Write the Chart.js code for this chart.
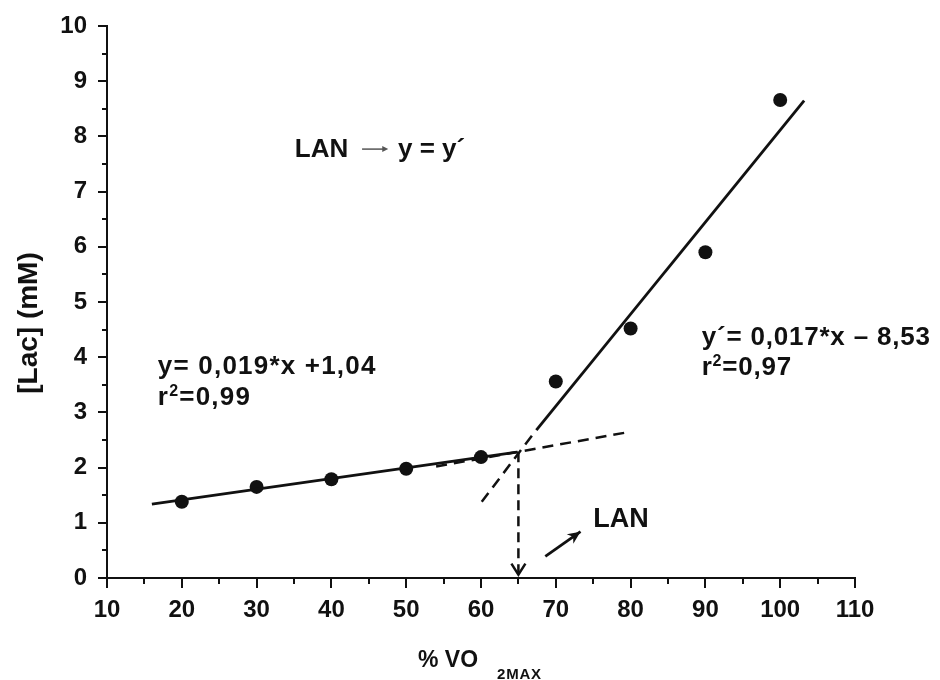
<!DOCTYPE html>
<html>
<head>
<meta charset="utf-8">
<script src="https://cdn.jsdelivr.net/npm/chart.js@4/dist/chart.umd.min.js"></script>
<style>
  html, body { margin: 0; padding: 0; background: #fff; }
  #wrap { width: 940px; height: 680px; }
</style>
</head>
<body>
<div id="wrap"><canvas id="c" width="940" height="680"></canvas></div>
<script>
const FONT = '"Liberation Sans", Arial, Helvetica, sans-serif';
const INK = '#111';

// Blood lactate measured at each exercise intensity
const vo2Pct  = [20, 30, 40, 50, 60, 70, 80, 90, 100];
const lactate = [1.38, 1.65, 1.79, 1.98, 2.19, 3.56, 4.52, 5.90, 8.66];

// Regression line below the threshold and its dashed extension
const lowFitX = [16, 64.8],   lowFitY = [1.34, 2.28];
const lowExtX = [54, 80],     lowExtY = [2.02, 2.65];
// Regression line above the threshold and its dashed extension
const highFitX = [67.4, 103.2], highFitY = [2.68, 8.65];
const highExtX = [60.1, 67.2],  highExtY = [1.38, 2.65];
// Drop from the intersection to the x axis, and the small pointer arrow
const lanDropX = [65, 65],       lanDropY = [2.28, 0.06];
const lanPointerX = [68.6, 73.3], lanPointerY = [0.39, 0.84];

// Axis ticks
const xTickLabels = ['10', '20', '30', '40', '50', '60', '70', '80', '90', '100', '110'];
const yTickLabels = ['0', '1', '2', '3', '4', '5', '6', '7', '8', '9', '10'];

const pts = (xs, ys) => xs.map((x, i) => ({ x: x, y: ys[i] }));

function seg(xs, ys, dash, width) {
  return {
    type: 'line',
    data: pts(xs, ys),
    showLine: true,
    borderColor: INK,
    borderWidth: width,
    borderDash: dash,
    borderCapStyle: 'butt',
    pointRadius: 0,
    fill: false,
    tension: 0
  };
}

// Text drawn over the plot, anchored in data units; "sup" pieces are raised
const notes = [
  { parts: [['y= 0,019*x +1,04']], x: 16.8, y: 3.70, size: 26, spacing: 1.2 },
  { parts: [['r'], ['2', 'sup'], ['=0,99']], x: 16.8, y: 3.13, size: 26, spacing: 1.2 },
  { parts: [['y\u00B4= 0,017*x \u2013 8,53']], x: 89.5, y: 4.22, size: 26, spacing: 0.8 },
  { parts: [['r'], ['2', 'sup'], ['=0,97']], x: 89.5, y: 3.68, size: 26, spacing: 0.8 },
  { parts: [['LAN']], x: 75.0, y: 0.92, size: 27, spacing: 0 },
  { parts: [['LAN']], x: 35.1, y: 7.63, size: 26, spacing: 0 },
  { parts: [['y = y\u00B4']], x: 48.9, y: 7.63, size: 26, spacing: 0 }
];

const decor = {
  id: 'decor',
  beforeDraw(chart) {
    const ctx = chart.ctx;
    ctx.save();
    ctx.fillStyle = '#fff';
    ctx.fillRect(0, 0, chart.width, chart.height);
    ctx.restore();
  },
  afterDraw(chart) {
    const ctx = chart.ctx;
    const xs = chart.scales.x, ys = chart.scales.y;
    const a = chart.chartArea;
    ctx.save();
    ctx.strokeStyle = INK;
    ctx.fillStyle = INK;

    // minor ticks halfway between the labelled ones
    ctx.lineWidth = 2;
    for (let v = 0.5; v < 10; v += 1) {
      const py = Math.round(ys.getPixelForValue(v));
      ctx.beginPath(); ctx.moveTo(a.left - 5, py); ctx.lineTo(a.left, py); ctx.stroke();
    }
    for (let v = 15; v < 110; v += 10) {
      const px = Math.round(xs.getPixelForValue(v));
      ctx.beginPath(); ctx.moveTo(px, a.bottom); ctx.lineTo(px, a.bottom + 6); ctx.stroke();
    }

    // open arrowhead at the foot of the dashed drop line
    const tx = xs.getPixelForValue(lanDropX[1]);
    const ty = ys.getPixelForValue(lanDropY[1]);
    ctx.lineWidth = 2.5;
    ctx.beginPath();
    ctx.moveTo(tx - 7, ty - 11); ctx.lineTo(tx, ty); ctx.lineTo(tx + 7, ty - 11);
    ctx.stroke();

    // filled head on the pointer arrow
    const x0 = xs.getPixelForValue(lanPointerX[0]), y0 = ys.getPixelForValue(lanPointerY[0]);
    const x1 = xs.getPixelForValue(lanPointerX[1]), y1 = ys.getPixelForValue(lanPointerY[1]);
    const ang = Math.atan2(y1 - y0, x1 - x0);
    ctx.beginPath();
    ctx.moveTo(x1, y1);
    ctx.lineTo(x1 - 14 * Math.cos(ang - 0.42), y1 - 14 * Math.sin(ang - 0.42));
    ctx.lineTo(x1 - 9 * Math.cos(ang), y1 - 9 * Math.sin(ang));
    ctx.lineTo(x1 - 14 * Math.cos(ang + 0.42), y1 - 14 * Math.sin(ang + 0.42));
    ctx.closePath();
    ctx.fill();

    // annotations
    ctx.textBaseline = 'alphabetic';
    ctx.textAlign = 'left';
    notes.forEach(n => {
      let px = xs.getPixelForValue(n.x);
      const py = ys.getPixelForValue(n.y);
      ctx.letterSpacing = n.spacing + 'px';
      n.parts.forEach(([txt, kind]) => {
        const sup = kind === 'sup';
        ctx.font = 'bold ' + (sup ? Math.round(n.size * 0.62) : n.size) + 'px ' + FONT;
        ctx.fillText(txt, px, sup ? py - n.size * 0.36 : py);
        px += ctx.measureText(txt).width + (sup ? 0 : 0);
      });
    });
    ctx.letterSpacing = '0px';

    // small arrow between "LAN" and "y = y´"
    const ay = ys.getPixelForValue(7.77);
    const ax0 = xs.getPixelForValue(44.1), ax1 = xs.getPixelForValue(47.6);
    ctx.strokeStyle = '#555';
    ctx.fillStyle = '#555';
    ctx.lineWidth = 1.5;
    ctx.beginPath(); ctx.moveTo(ax0, ay); ctx.lineTo(ax1 - 4, ay); ctx.stroke();
    ctx.beginPath(); ctx.moveTo(ax1, ay); ctx.lineTo(ax1 - 6, ay - 3); ctx.lineTo(ax1 - 6, ay + 3); ctx.closePath(); ctx.fill();

    // axis titles
    ctx.fillStyle = INK;
    ctx.font = 'bold 23px ' + FONT;
    ctx.fillText('% VO', 418, 667);
    ctx.font = 'bold 15px ' + FONT;
    ctx.letterSpacing = '0.8px';
    ctx.fillText('2MAX', 497, 679);
    ctx.letterSpacing = '0px';

    ctx.save();
    ctx.translate(29, 323);
    ctx.rotate(-Math.PI / 2);
    ctx.textAlign = 'center';
    ctx.textBaseline = 'middle';
    ctx.font = 'bold 28px ' + FONT;
    ctx.fillText('[Lac] (mM)', 0, 0);
    ctx.restore();

    ctx.restore();
  }
};

new Chart(document.getElementById('c'), {
  type: 'scatter',
  data: {
    datasets: [
      seg(lowFitX, lowFitY, [], 2.8),
      seg(lowExtX, lowExtY, [11, 7], 2.5),
      seg(highFitX, highFitY, [], 2.8),
      seg(highExtX, highExtY, [11, 7], 2.5),
      seg(lanDropX, lanDropY, [10, 6], 2.5),
      seg(lanPointerX, lanPointerY, [], 2.8),
      {
        type: 'scatter',
        data: pts(vo2Pct, lactate),
        pointRadius: 7,
        pointBackgroundColor: INK,
        pointBorderColor: INK,
        pointBorderWidth: 0,
        showLine: false
      }
    ]
  },
  options: {
    responsive: false,
    devicePixelRatio: 1,
    animation: false,
    events: [],
    layout: { padding: { top: 26, right: 85, left: 0, bottom: 0 } },
    plugins: { legend: { display: false }, tooltip: { enabled: false }, title: { display: false } },
    scales: {
      x: {
        type: 'linear',
        min: 10, max: 110,
        afterFit(s) { s.height = 102; },
        afterBuildTicks(s) { s.ticks = xTickLabels.map(t => ({ value: Number(t) })); },
        ticks: {
          color: INK,
          padding: 8,
          maxRotation: 0,
          font: { family: FONT, size: 24, weight: 'bold' },
          callback: (v) => String(v)
        },
        grid: { drawOnChartArea: false, drawTicks: true, tickLength: 10, color: INK, lineWidth: 2 },
        border: { display: true, color: INK, width: 2 }
      },
      y: {
        type: 'linear',
        min: 0, max: 10,
        afterFit(s) { s.width = 107; },
        afterBuildTicks(s) { s.ticks = yTickLabels.map(t => ({ value: Number(t) })); },
        ticks: {
          color: INK,
          padding: 11,
          font: { family: FONT, size: 24, weight: 'bold' },
          callback: (v) => String(v)
        },
        grid: { drawOnChartArea: false, drawTicks: true, tickLength: 9, color: INK, lineWidth: 2 },
        border: { display: true, color: INK, width: 2 }
      }
    }
  },
  plugins: [decor]
});
</script>
</body>
</html>
